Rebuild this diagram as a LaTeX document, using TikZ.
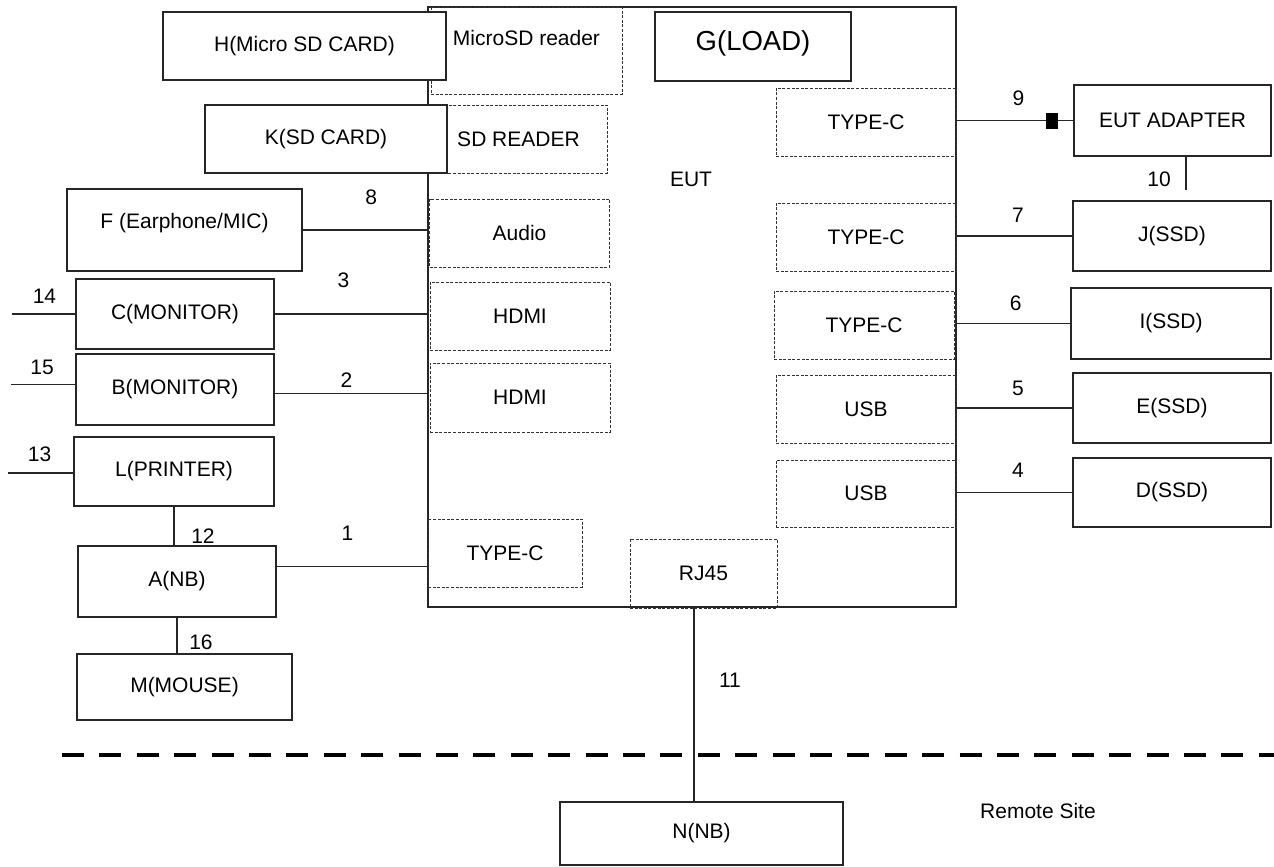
\documentclass[tikz,border=0pt]{standalone}
\usepackage{fontspec}
\setmainfont{Liberation Sans}
\usetikzlibrary{calc}
\newcommand{\lift}[2]{\raisebox{#1}[\height][\depth]{#2}}

\begin{document}
\begin{tikzpicture}[
  x=1pt,y=-1pt,
  font=\fontsize{21pt}{25pt}\selectfont,
  box/.style={draw=black!85,line width=1.3pt,fill=white,inner sep=2pt},
  port/.style={draw=black!80,line width=0.9pt,dash pattern=on 3pt off 1.6pt,inner sep=2pt},
  wire/.style={draw=black!85,line width=1.2pt},
  num/.style={inner sep=0pt},
  core/.style={fill=black,inner sep=0pt,minimum width=12pt,minimum height=16pt},
  sitesep/.style={line width=4.5pt,dash pattern=on 22pt off 15.4pt}
]
  \useasboundingbox (0,0) rectangle (1274,867);

  % EUT and its ports
  \node[draw=black!85,line width=1.3pt,minimum width=528,minimum height=600] (eut) at (692,307) {};
  \node (eutname) at (691,179) {EUT};
  \node[port,minimum width=191,minimum height=87] (msdr) at (526.5,50.5) {\lift{12.5pt}{MicroSD reader}};
  \node[port,minimum width=177,minimum height=68] (sdr) at (518.5,139) {SD READER};
  \node[port,minimum width=180,minimum height=68] (audio) at (519.5,233) {Audio};
  \node[port,minimum width=180,minimum height=68] (hdmiA) at (520,316) {HDMI};
  \node[port,minimum width=180,minimum height=69] (hdmiB) at (520,397.5) {HDMI};
  \node[port,minimum width=154,minimum height=68] (tcL) at (505,553) {TYPE-C};
  \node[port,minimum width=147,minimum height=69] (rj45) at (703.5,573.5) {RJ45};
  \node[port,minimum width=180,minimum height=68] (tcR1) at (866,122) {TYPE-C};
  \node[port,minimum width=180,minimum height=68] (tcR2) at (866,237) {TYPE-C};
  \node[port,minimum width=180,minimum height=68] (tcR3) at (864,325) {TYPE-C};
  \node[port,minimum width=180,minimum height=68] (usbA) at (866,409) {USB};
  \node[port,minimum width=180,minimum height=67] (usbB) at (866,493.5) {USB};
  \node[box,minimum width=196,minimum height=69,font=\fontsize{27.5pt}{32pt}\selectfont] (gload) at (753,46.5) {\lift{3pt}{G(LOAD)}};

  % local devices, left
  \node[box,minimum width=283,minimum height=68] (H) at (304.5,46) {H(Micro SD CARD)};
  \node[box,minimum width=242,minimum height=68] (K) at (326,139) {K(SD CARD)};
  \node[box,minimum width=235,minimum height=82] (F) at (184.5,230) {\lift{7pt}{F (Earphone/MIC)}};
  \node[box,minimum width=198,minimum height=70] (C) at (175,314) {C(MONITOR)};
  \node[box,minimum width=198,minimum height=71] (B) at (175,389.5) {B(MONITOR)};
  \node[box,minimum width=200,minimum height=69] (L) at (174,471.5) {L(PRINTER)};
  \node[box,minimum width=198,minimum height=71] (A) at (177,581.5) {A(NB)};
  \node[box,minimum width=215,minimum height=66] (M) at (184.5,687) {M(MOUSE)};

  % local devices, right
  \node[box,minimum width=197,minimum height=71] (adapter) at (1172.5,120.5) {EUT ADAPTER};
  \node[box,minimum width=198,minimum height=70] (J) at (1172,236) {J(SSD)};
  \node[box,minimum width=200,minimum height=71] (I) at (1171,323.5) {I(SSD)};
  \node[box,minimum width=198,minimum height=70] (E) at (1172,408) {E(SSD)};
  \node[box,minimum width=198,minimum height=69] (D) at (1172,492.5) {D(SSD)};

  % remote site
  \draw[sitesep] (62,755) -- (1274,755);
  \node[box,minimum width=283,minimum height=63] (N) at (701.5,833.5) {N(NB)};
  \node (remote) at (1038,811) {Remote Site};

  % cables
  \draw[wire] (F.east) -- (F.east -| eut.west) node[num,pos=.55,yshift=33pt] {8};
  \draw[wire] (C.east) -- (C.east -| eut.west) node[num,pos=.45,yshift=34pt] {3};
  \draw[wire] ([yshift=-4pt]B.east) -- ([yshift=-4pt]B.east -| eut.west) node[num,pos=.47,yshift=13pt] {2};
  \draw[wire] ([yshift=15pt]A.east) -- ([yshift=15pt]A.east -| eut.west) node[num,pos=.47,yshift=33pt] {1};
  \draw[wire] (C.west) -- ++(-63,0) node[num,pos=.49,yshift=18pt] {14};
  \draw[wire] ([yshift=5pt]B.west) -- ++(-64,0) node[num,pos=.52,yshift=17pt] {15};
  \draw[wire] ([yshift=-1.5pt]L.west) -- ++(-65,0) node[num,pos=.52,yshift=19pt] {13};
  \draw[wire] (L.south) -- (L.south |- A.north) node[num,pos=.75,xshift=29pt] {12};
  \draw[wire] (A.south) -- (A.south |- M.north) node[num,pos=.68,xshift=24pt] {16};
  \draw[wire] ([xshift=-9.5pt]rj45.south) -- ([xshift=-9.5pt]rj45.south |- N.north) node[num,pos=.37,xshift=36pt] {11};
  \draw[wire] (adapter.west -| eut.east) -- (adapter.west) node[core,pos=.82] {} node[num,pos=.53,yshift=22pt] {9};
  \draw[wire] ([xshift=13.5pt]adapter.south) -- ++(0,33) node[num,pos=.7,xshift=-27pt] {10};
  \draw[wire] (J.west -| eut.east) -- (J.west) node[num,pos=.53,yshift=21pt] {7};
  \draw[wire] (I.west -| eut.east) -- (I.west) node[num,pos=.52,yshift=20pt] {6};
  \draw[wire] (E.west -| eut.east) -- (E.west) node[num,pos=.53,yshift=20pt] {5};
  \draw[wire] (D.west -| eut.east) -- (D.west) node[num,pos=.53,yshift=22pt] {4};
\end{tikzpicture}
\end{document}
